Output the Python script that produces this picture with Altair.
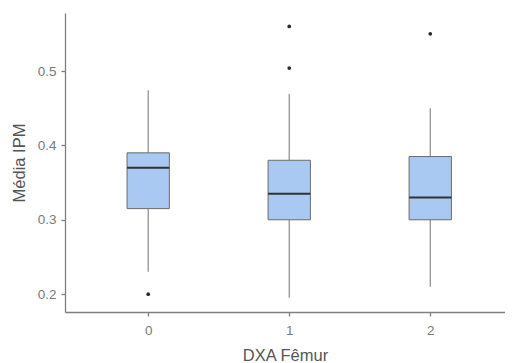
import altair as alt
import pandas as pd

groups = [0, 1, 2]
whisker_low = [0.230, 0.195, 0.210]
q1 = [0.315, 0.300, 0.300]
median = [0.370, 0.335, 0.330]
q3 = [0.390, 0.380, 0.385]
whisker_high = [0.474, 0.469, 0.450]

outlier_group = [0, 1, 1, 2]
outlier_value = [0.200, 0.504, 0.560, 0.550]

x_ticks = [0, 1, 2]
y_ticks = [0.2, 0.3, 0.4, 0.5]

box_df = pd.DataFrame({
    "g": groups, "lo": whisker_low, "q1": q1, "med": median,
    "q3": q3, "hi": whisker_high,
})
out_df = pd.DataFrame({"g": outlier_group, "v": outlier_value})

xscale = alt.Scale(domain=[-0.59, 2.53], nice=False, zero=False)
yscale = alt.Scale(domain=[0.176, 0.578], nice=False, zero=False)

xaxis = alt.Axis(values=x_ticks, format="d", title="DXA Fêmur", grid=False,
                 tickSize=4, labelPadding=7, titlePadding=11)
yaxis = alt.Axis(values=y_ticks, format=".1f", title="Média IPM", grid=False,
                 tickSize=4, labelPadding=5, titlePadding=10)

base = alt.Chart(box_df).transform_calculate(
    left="datum.g - 0.15", right="datum.g + 0.15"
)

whisk_lo = base.mark_rule(color="#8a8a8a", strokeWidth=1.2).encode(
    x=alt.X("g:Q", scale=xscale, axis=xaxis),
    y=alt.Y("lo:Q", scale=yscale, axis=yaxis),
    y2="q1:Q",
)
whisk_hi = base.mark_rule(color="#8a8a8a", strokeWidth=1.2).encode(
    x=alt.X("g:Q", scale=xscale),
    y=alt.Y("q3:Q", scale=yscale),
    y2="hi:Q",
)
box = base.mark_bar(fill="#a9c8f2", stroke="#6b6b6b", strokeWidth=1).encode(
    x=alt.X("left:Q", scale=xscale),
    x2="right:Q",
    y=alt.Y("q1:Q", scale=yscale),
    y2="q3:Q",
)
med = base.mark_rule(color="#333333", strokeWidth=2).encode(
    x=alt.X("left:Q", scale=xscale),
    x2="right:Q",
    y=alt.Y("med:Q", scale=yscale),
)
pts = alt.Chart(out_df).mark_circle(color="#2b2b2b", size=14, opacity=1).encode(
    x=alt.X("g:Q", scale=xscale),
    y=alt.Y("v:Q", scale=yscale),
)

chart = alt.layer(whisk_lo, whisk_hi, box, med, pts).properties(
    width=440, height=299,
    autosize=alt.AutoSizeParams(type="none"),
    padding={"left": 57, "top": 5, "right": 0, "bottom": 51},
).configure_view(stroke=None).configure_axis(
    domainColor="#7f7f7f", domainWidth=1.3,
    tickColor="#7f7f7f", tickWidth=1.3,
    labelColor="#7a7a7a", labelFont="Liberation Sans", labelFontSize=13.5,
    titleColor="#555555", titleFont="Liberation Sans", titleFontSize=16.5,
    titleFontWeight="normal",
)

chart.save("out.html", embed_options={"renderer": "svg", "actions": False})
